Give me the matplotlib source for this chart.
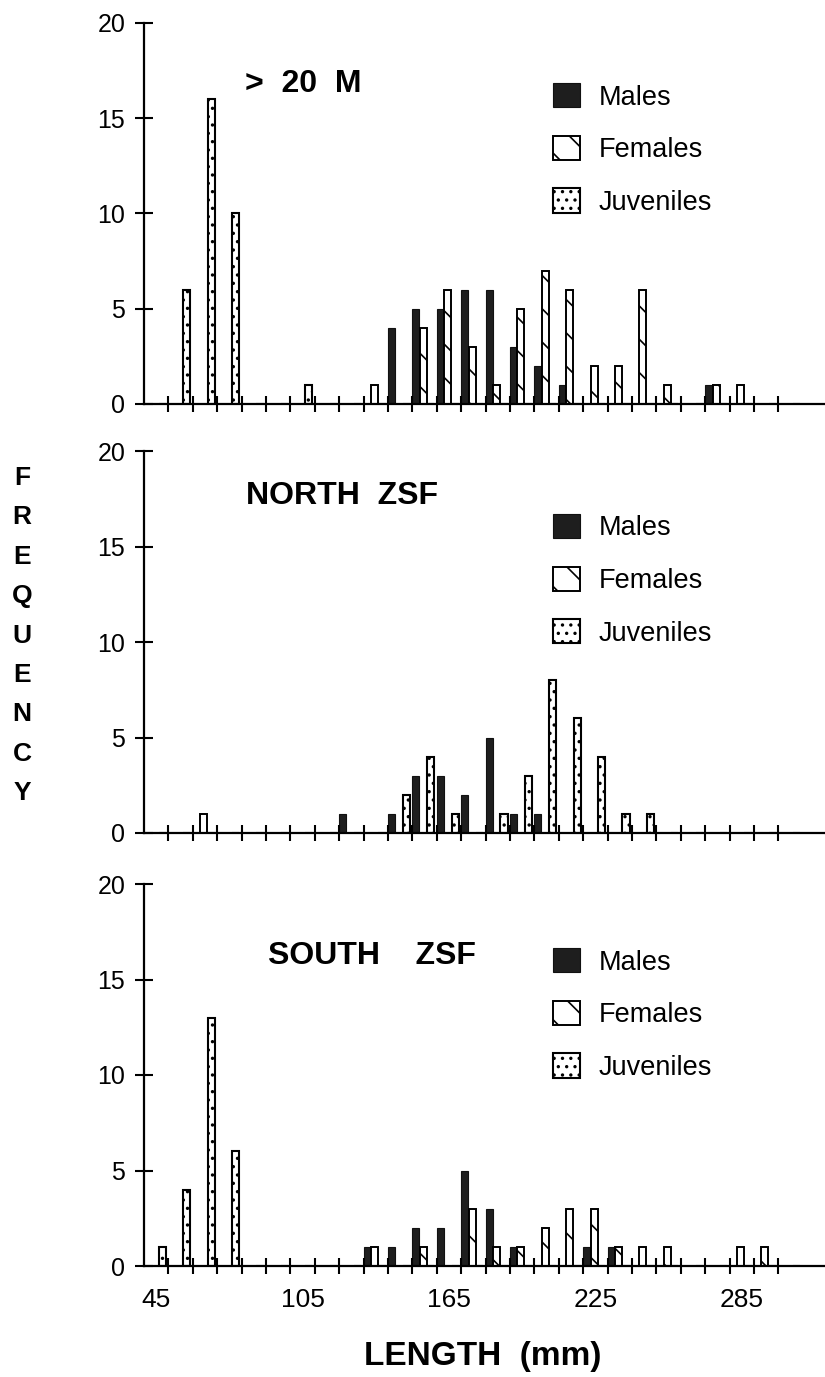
import matplotlib
matplotlib.use("Agg")
import matplotlib.pyplot as plt
from matplotlib.patches import Patch
from matplotlib.ticker import FixedLocator
import numpy as np

# Length classes (mm), one category per 10 mm
lengths = [45, 55, 65, 75, 85, 95, 105, 115, 125, 135, 145, 155, 165, 175,
           185, 195, 205, 215, 225, 235, 245, 255, 265, 275, 285, 295, 305]
tickLabels = ["45", "105", "165", "225", "285"]

# > 20 M
deepMales     = [0, 0, 0, 0, 0, 0, 0, 0, 0, 0, 4, 5, 5, 6, 6, 3, 2, 1, 0, 0, 0, 0, 0, 1, 0, 0, 0]
deepFemales   = [0, 0, 0, 0, 0, 0, 0, 0, 0, 1, 0, 4, 6, 3, 1, 5, 7, 6, 2, 2, 6, 1, 0, 1, 1, 0, 0]
deepJuveniles = [0, 6, 16, 10, 0, 0, 1, 0, 0, 0, 0, 0, 0, 0, 0, 0, 0, 0, 0, 0, 0, 0, 0, 0, 0, 0, 0]

# NORTH ZSF
northMales     = [0, 0, 0, 0, 0, 0, 0, 0, 1, 0, 1, 3, 3, 2, 5, 1, 1, 0, 0, 0, 0, 0, 0, 0, 0, 0, 0]
northFemales   = [0, 0, 1, 0, 0, 0, 0, 0, 0, 0, 0, 0, 0, 0, 0, 0, 0, 0, 0, 0, 0, 0, 0, 0, 0, 0, 0]
northJuveniles = [0, 0, 0, 0, 0, 0, 0, 0, 0, 0, 2, 4, 1, 0, 1, 3, 8, 6, 4, 1, 1, 0, 0, 0, 0, 0, 0]

# SOUTH ZSF
southMales     = [0, 0, 0, 0, 0, 0, 0, 0, 0, 1, 1, 2, 2, 5, 3, 1, 0, 0, 1, 1, 0, 0, 0, 0, 0, 0, 0]
southFemales   = [0, 0, 0, 0, 0, 0, 0, 0, 0, 1, 0, 1, 0, 3, 1, 1, 2, 3, 3, 1, 1, 1, 0, 0, 1, 1, 0]
southJuveniles = [1, 4, 13, 6, 0, 0, 0, 0, 0, 0, 0, 0, 0, 0, 0, 0, 0, 0, 0, 0, 0, 0, 0, 0, 0, 0, 0]

panels = [
    (">  20  M", deepMales, deepFemales, deepJuveniles),
    ("NORTH  ZSF", northMales, northFemales, northJuveniles),
    ("SOUTH    ZSF", southMales, southFemales, southJuveniles),
]

W, H = 825, 1377
fig = plt.figure(figsize=(W / 100, H / 100), dpi=100)
plt.rcParams["font.family"] = ["Liberation Sans", "DejaVu Sans"]
plt.rcParams["hatch.linewidth"] = 1.2

# Axes boxes in pixels: (top of y=20, y=0 line)
axBoxes = [(23, 404), (451, 833), (884, 1266)]
titlePos = [(0.148, 0.84), (0.15, 0.882), (0.182, 0.812)]
legendTop = [0.842, 0.835, 0.832]

maleStyle = dict(facecolor="#1e1e1e", edgecolor="#111111", linewidth=0.8)
femaleStyle = dict(facecolor="white", edgecolor="black", hatch="\\", linewidth=1.4)
juvStyle = dict(facecolor="white", edgecolor="black", hatch="..", linewidth=1.5)

barW = 0.29
idx = np.arange(len(lengths))
axLeft = 144

for (title, males, females, juveniles), (yTop, yZero), tp, lt in zip(panels, axBoxes, titlePos, legendTop):
    ax = fig.add_axes([axLeft / W, 1 - yZero / H, (W - axLeft) / W, (yZero - yTop) / H])

    ax.bar(idx - 0.5, males, width=barW, align="edge", **maleStyle)
    ax.bar(idx - 0.5 + 0.30, females, width=barW, align="edge", **femaleStyle)
    ax.bar(idx - 0.5 + 0.61, juveniles, width=barW, align="edge", **juvStyle)

    # Axis settings
    ax.set_xlim(-0.5, (W - axLeft) / 24.4 - 0.5)
    ax.set_ylim(0, 20)
    for side in ["top", "right"]:
        ax.spines[side].set_visible(False)
    for side in ["left", "bottom"]:
        ax.spines[side].set_linewidth(1.6)

    ax.set_yticks([0, 5, 10, 15, 20])
    ax.tick_params(axis="y", direction="inout", length=13, width=1.5,
                   labelsize=18, pad=7)

    ax.set_xticks([idx[i] for i in range(0, 25, 6)])
    ax.xaxis.set_minor_locator(FixedLocator(idx[:-1] + 0.5))
    ax.tick_params(axis="x", which="major", length=0, pad=16)
    ax.tick_params(axis="x", which="minor", direction="inout", length=12, width=1.5)
    if yZero == axBoxes[-1][1]:
        ax.set_xticklabels(tickLabels, fontsize=19)
    else:
        ax.set_xticklabels([])

    ax.text(tp[0], tp[1], title, transform=ax.transAxes, fontsize=23,
            fontweight="bold", va="center", ha="left")

    handles = [Patch(label="Males", **maleStyle),
               Patch(label="Females", **femaleStyle),
               Patch(label="Juveniles", **juvStyle)]
    ax.legend(handles=handles, loc="upper left", bbox_to_anchor=(0.6, lt),
              frameon=False, fontsize=19.5, handlelength=1.0, handleheight=1.0,
              handletextpad=0.7, labelspacing=0.93, borderpad=0, borderaxespad=0)

# Stacked y label
for i, ch in enumerate("FREQUENCY"):
    fig.text(22 / W, 1 - (478 + 39.4 * i) / H, ch, fontsize=19, fontweight="bold",
             ha="center", va="center")

fig.text(483 / W, 1 - 1357 / H, "LENGTH  (mm)", fontsize=24, fontweight="bold",
         ha="center", va="center")

fig.savefig("out.png", dpi=100)
